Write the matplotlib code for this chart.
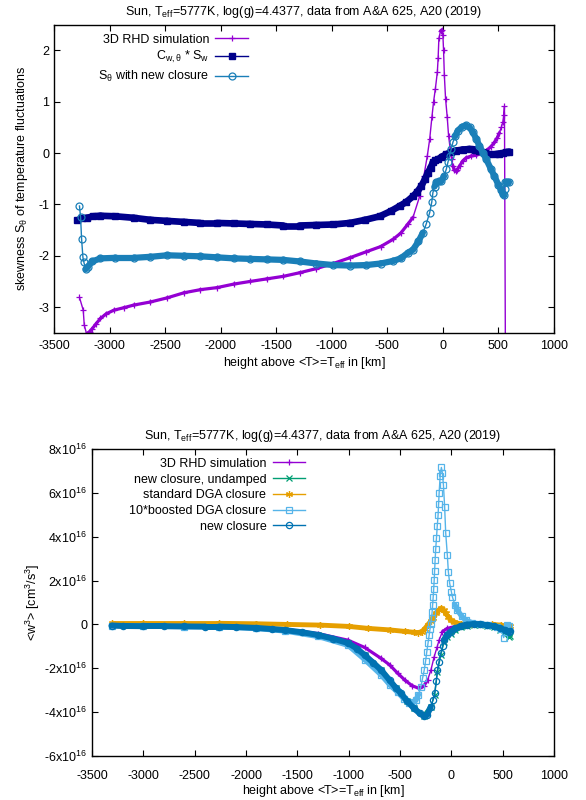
import matplotlib
matplotlib.use('Agg')
import matplotlib.pyplot as plt
from matplotlib.collections import LineCollection
import numpy as np

plt.rcParams['font.family'] = ['Liberation Sans', 'DejaVu Sans']
plt.rcParams['mathtext.fontset'] = 'custom'
plt.rcParams['mathtext.rm'] = 'Liberation Sans'
plt.rcParams['mathtext.it'] = 'Liberation Sans:italic'
plt.rcParams['mathtext.bf'] = 'Liberation Sans:bold'
plt.rcParams['axes.unicode_minus'] = False
plt.rcParams['font.size'] = 9

## 상단: skewness S_theta
rhd_x = [-3271, -3237, -3228, -3207, -3180, -3156, -3120, -3082, -3030, -2962, -2870, -2783,
         -2633, -2483, -2330, -2184, -2034, -1880, -1736, -1586, -1436, -1290, -1140, -987,
         -840, -688, -560, -449, -380, -314, -269, -209, -171, -140, -119, -99, -84, -68,
         -50, -43, -36, -21, -10, 0, 6, 13, 24, 39, 51, 66, 78, 90, 102, 114, 130, 150,
         180, 210, 250, 300, 350, 390, 430, 464, 490, 509, 525, 539, 548, 554, 562]
rhd_s = [-2.81, -3.06, -3.35, -3.52, -3.48, -3.42, -3.32, -3.22, -3.13, -3.06, -3.01, -2.96,
         -2.90, -2.82, -2.72, -2.66, -2.62, -2.55, -2.50, -2.45, -2.40, -2.33, -2.25, -2.15,
         -2.04, -1.92, -1.82, -1.68, -1.56, -1.38, -1.25, -0.84, -0.44, -0.05, 0.27, 0.70, 1.00, 1.25,
         1.58, 1.85, 2.24, 2.38, 2.40, 2.30, 2.00, 1.52, 1.06, 0.70, 0.34, 0.08, -0.12, -0.25, -0.32, -0.35, -0.32, -0.25,
         -0.15, -0.09, -0.06, -0.04, 0.00, 0.05, 0.12, 0.21, 0.30, 0.40, 0.50, 0.60, 0.75, 0.91, -3.60]

cws_x = [-3291, -3250, -3201, -3150, -3082, -2950, -2783, -2633, -2483, -2330, -2184, -2034,
         -1880, -1736, -1586, -1436, -1290, -1140, -987, -837, -700, -568, -470, -389, -329,
         -269, -230, -194, -160, -135, -110, -90, -70, -45, -10, 31, 75, 120, 180, 240, 290,
         329, 380, 419, 470, 509, 540, 570, 599]
cws_s = [-1.31, -1.27, -1.26, -1.23, -1.22, -1.23, -1.26, -1.30, -1.32, -1.34, -1.36, -1.36,
         -1.37, -1.38, -1.39, -1.41, -1.41, -1.40, -1.39, -1.36, -1.30, -1.23, -1.13, -1.03, -0.95,
         -0.84, -0.75, -0.64, -0.50, -0.38, -0.28, -0.18, -0.14, -0.12, -0.07, -0.02, 0.02, 0.05, 0.07, 0.08, 0.07,
         0.05, 0.01, -0.02, -0.02, -0.01, 0.00, 0.02, 0.03]

new_x = [-3271, -3261, -3252, -3240, -3232, -3216, -3196, -3156, -3082, -2950, -2783, -2633,
         -2483, -2330, -2184, -2034, -1880, -1736, -1586, -1436, -1290, -1140, -987, -837,
         -688, -560, -449, -380, -314, -269, -220, -180, -150, -119, -100, -90, -75, -59,
         -35, -14, 10, 31, 45, 60, 75, 90, 110, 135, 170, 204, 240, 269, 300, 329, 360,
         390, 430, 464, 500, 525, 539, 548, 556, 563, 575, 592]
new_s = [-1.03, -1.25, -1.67, -2.03, -2.12, -2.26, -2.21, -2.11, -2.05, -2.04, -2.04, -2.02,
         -1.99, -2.00, -2.01, -2.03, -2.05, -2.06, -2.07, -2.08, -2.11, -2.15, -2.18, -2.19,
         -2.18, -2.15, -2.10, -2.05, -1.94, -1.88, -1.72, -1.55, -1.38, -1.16, -0.95, -0.77, -0.65, -0.57,
         -0.55, -0.54, -0.45, -0.31, -0.18, -0.05, 0.08, 0.21, 0.33, 0.44, 0.51, 0.54, 0.50, 0.41, 0.28, 0.14, 0.01,
         -0.12, -0.30, -0.45, -0.62, -0.72, -0.80, -0.82, -0.70, -0.57, -0.56, -0.56]

## 하단: <w^3> [10^16 cm^3/s^3]
w_rhd_x = [-3310, -3000, -2600, -2263, -1900, -1618, -1296, -1006, -844, -684, -600, -522,
           -450, -380, -312, -270, -232, -200, -167, -140, -119, -87, -39, 58, 150, 250,
           350, 450, 520, 560]
w_rhd = [-0.03, -0.04, -0.05, -0.07, -0.12, -0.22, -0.42, -0.72, -1.05, -1.55, -1.85, -2.23,
         -2.55, -2.80, -2.92, -2.82, -2.54, -2.10, -1.47, -1.05, -0.71, -0.33, -0.18, -0.07, -0.02, 0.00,
         -0.02, -0.06, -0.10, -0.15]

w_und_x = [-3310, -3000, -2600, -2263, -1900, -1618, -1296, -1006, -844, -684, -540, -430,
           -363, -266, -200, -162, -135, -103, -71, -45, -7, 40, 90, 150, 219, 280, 348,
           420, 476, 520, 557, 575]
w_und = [-0.05, -0.08, -0.09, -0.10, -0.16, -0.26, -0.48, -0.85, -1.40, -2.08, -2.90, -3.50,
         -3.83, -4.18, -3.78, -3.20, -2.15, -1.40, -0.80, -0.58, -0.42, -0.26, -0.14, -0.06, -0.02, -0.01, -0.05,
         -0.12, -0.24, -0.36, -0.56, -0.52]

w_dga_x = [-3310, -3000, -2600, -2263, -1900, -1600, -1278, -1000, -812, -600, -450, -361,
           -329, -290, -260, -232, -200, -175, -152, -125, -97, -75, -55, -30, -7, 30, 90,
           200, 300, 400, 480, 542, 575]
w_dga = [0.05, 0.05, 0.05, 0.05, 0.03, 0.00, -0.03, -0.09, -0.18, -0.25, -0.32, -0.36,
         -0.38, -0.33, -0.20, -0.03, 0.15, 0.30, 0.50, 0.65, 0.73, 0.65, 0.50, 0.35, 0.20, 0.10, 0.02,
         0.00, 0.00, 0.00, -0.03, -0.10, -0.05]

w_boost_x = [-3310, -3000, -2600, -2263, -1900, -1618, -1296, -1006, -844, -684, -600, -522,
             -460, -409, -370, -345, -320, -297, -280, -264, -250, -239, -227, -216, -208,
             -200, -193, -187, -182, -177, -172, -167, -163, -158, -152, -145, -137, -129,
             -124, -119, -109, -97, -87, -77, -65, -55, -39, -29, -16, 0, 10, 35, 58, 100,
             138, 200, 283, 360, 445, 480, 510, 542, 560]
w_boost = [-0.05, -0.08, -0.10, -0.11, -0.18, -0.30, -0.55, -0.95, -1.60, -2.30, -2.75, -3.10,
           -3.40, -3.60, -3.55, -3.45, -3.20, -2.84, -2.45, -2.08, -1.65, -1.24, -0.85, -0.48, -0.22,
           0.02, 0.30, 0.58, 0.90, 1.24, 1.60, 2.02, 2.45, 2.94, 3.45, 3.93, 4.50, 4.99,
           5.50, 5.98, 6.77, 7.16, 6.90, 6.36, 5.34, 4.18, 3.16, 2.40, 1.87, 1.50, 1.26, 0.90, 0.66, 0.38,
           0.20, 0.08, 0.02, -0.03, -0.10, -0.20, -0.60, -0.03, -0.05]

w_new_x = [-3310, -3200, -3000, -2800, -2600, -2400, -2263, -2100, -1900, -1750, -1618, -1450,
           -1296, -1150, -1006, -920, -844, -760, -684, -600, -540, -490, -430, -363, -310,
           -266, -235, -200, -180, -162, -148, -135, -120, -103, -85, -71, -45, -7, 40, 90,
           150, 219, 280, 348, 420, 476, 520, 557, 575]
w_new = [-0.05, -0.07, -0.08, -0.08, -0.09, -0.10, -0.10, -0.12, -0.16, -0.21, -0.26, -0.36,
         -0.48, -0.65, -0.85, -1.10, -1.40, -1.75, -2.08, -2.55, -2.90, -3.14, -3.50, -3.83, -4.05,
         -4.18, -4.12, -3.75, -3.45, -3.14, -2.60, -2.08, -1.70, -1.32, -0.98, -0.71, -0.48, -0.33, -0.18, -0.07,
         -0.01, 0.02, 0.01, -0.03, -0.08, -0.18, -0.25, -0.33, -0.30]


def band(ax, x, y, color, lw, steep=2.0, z=1):
    # 조밀한 마커 띠를 굵은 선으로 흉내 (가파른 구간 제외)
    pts = ax.transData.transform(np.column_stack([x, y]))
    segs = []
    for i in range(len(pts) - 1):
        d = pts[i + 1] - pts[i]
        if abs(d[1]) <= steep * abs(d[0]) + 1.0:
            segs.append([pts[i], pts[i + 1]])
    if not segs:
        return
    inv = ax.transData.inverted()
    segs = [inv.transform(np.array(s)) for s in segs]
    lc = LineCollection(segs, colors=color, linewidths=lw, capstyle='round', zorder=z)
    ax.add_collection(lc)


def style_axes(ax, xpad):
    ax.tick_params(direction='in', length=4, width=0.8, top=True, right=True, labelsize=9)
    ax.tick_params(axis='x', pad=xpad)
    for s in ax.spines.values():
        s.set_linewidth(1.0)


fig = plt.figure(figsize=(5.86, 8.0), dpi=100)
title = r'Sun, T$_{\mathrm{eff}}$=5777K, log(g)=4.4377, data from A&A 625, A20 (2019)'
xlab = r'height above <T>=T$_{\mathrm{eff}}$ in [km]'

## 상단 그래프
ax1 = fig.add_axes([0.0922, 0.584, 0.8532, 0.385])
ax1.set_xlim(-3500, 1000)
ax1.set_ylim(-3.5, 2.5)
fig.canvas.draw()

c_rhd = '#9400d3'
c_cws = '#00008b'
c_new = '#1a7fb8'

band(ax1, rhd_x, rhd_s, c_rhd, 2.3, z=2)
ax1.plot(rhd_x, rhd_s, color=c_rhd, lw=1.0, marker='+', ms=5, mew=0.9, zorder=2,
         label='3D RHD simulation')
band(ax1, cws_x, cws_s, c_cws, 4.8, z=3)
ax1.plot(cws_x, cws_s, color=c_cws, lw=1.0, marker='s', ms=4, zorder=3,
         label=r'C$_{\mathrm{w,θ}}$ * S$_{\mathrm{w}}$')
band(ax1, new_x, new_s, c_new, 4.5, z=4)
ax1.plot(new_x, new_s, color=c_new, lw=1.0, marker='o', ms=5, mfc='none', mew=0.9, zorder=4,
         label=r'S$_{\mathrm{θ}}$ with new closure')

ax1.set_xticks(np.arange(-3500, 1001, 500))
ax1.set_yticks(np.arange(-3, 3, 1))
ax1.set_title(title, fontsize=9, pad=7)
ax1.set_xlabel(xlab, fontsize=9, labelpad=2)
ax1.set_ylabel(r'skewness S$_{\mathrm{θ}}$ of temperature fluctuations', fontsize=9, labelpad=6)
style_axes(ax1, 5)
ax1.legend(loc='upper right', bbox_to_anchor=(0.405, 1.0), frameon=False, markerfirst=False,
           handlelength=2.6, labelspacing=0.3, borderaxespad=0.3, handletextpad=0.5, fontsize=9)

## 하단 그래프
ax2 = fig.add_axes([0.157, 0.055, 0.7884, 0.38375])
ax2.set_xlim(-3500, 1000)
ax2.set_ylim(-6e16, 8e16)
fig.canvas.draw()

c_und = '#009e73'
c_dga = '#e69f00'
c_boost = '#56b4e9'
c_wnew = '#0072b2'
e16 = 1e16

band(ax2, w_rhd_x, np.array(w_rhd) * e16, c_rhd, 2.3, z=2)
ax2.plot(w_rhd_x, np.array(w_rhd) * e16, color=c_rhd, lw=1.0, marker='+', ms=5, mew=0.9,
         zorder=2, label='3D RHD simulation')
band(ax2, w_und_x, np.array(w_und) * e16, c_und, 3.5, z=3)
ax2.plot(w_und_x, np.array(w_und) * e16, color=c_und, lw=1.0, marker='x', ms=4, mew=0.9,
         zorder=3, label='new closure, undamped')
band(ax2, w_dga_x, np.array(w_dga) * e16, c_dga, 3.5, z=4)
ax2.plot(w_dga_x, np.array(w_dga) * e16, color=c_dga, lw=1.0, marker=(6, 2, 0), ms=5, mew=0.9,
         zorder=4, label='standard DGA closure')
band(ax2, w_boost_x, np.array(w_boost) * e16, c_boost, 3.8, z=5)
ax2.plot(w_boost_x, np.array(w_boost) * e16, color=c_boost, lw=1.0, marker='s', ms=4.5,
         mfc='none', mew=0.9, zorder=5, label='10*boosted DGA closure')
band(ax2, w_new_x, np.array(w_new) * e16, c_wnew, 4.3, z=6)
ax2.plot(w_new_x, np.array(w_new) * e16, color=c_wnew, lw=1.0, marker='o', ms=4.5,
         mfc='none', mew=0.9, zorder=6, label='new closure')


def w_fmt(v, pos):
    n = int(round(v / e16))
    if n == 0:
        return '0'
    return r'%dx10$^{16}$' % n


ax2.set_xticks(np.arange(-3500, 1001, 500))
ax2.set_yticks(np.arange(-6, 9, 2) * e16)
ax2.yaxis.set_major_formatter(matplotlib.ticker.FuncFormatter(w_fmt))
ax2.set_title(title, fontsize=9, pad=7)
ax2.set_xlabel(xlab, fontsize=9, labelpad=1)
ax2.set_ylabel(r'<w$^{3}$> [cm$^{3}$/s$^{3}$]', fontsize=9, labelpad=2)
style_axes(ax2, 10)
ax2.legend(loc='upper right', bbox_to_anchor=(0.48, 1.0), frameon=False, markerfirst=False,
           handlelength=2.6, labelspacing=0.3, borderaxespad=0.3, handletextpad=0.5, fontsize=9)

plt.savefig('out.png', dpi=100)
